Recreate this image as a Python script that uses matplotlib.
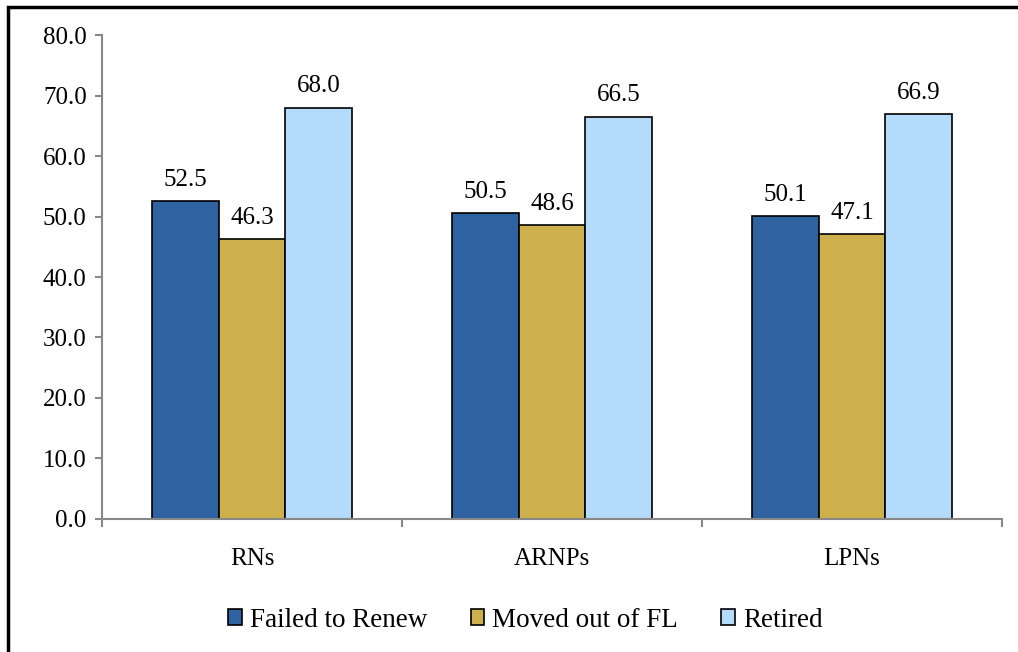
import matplotlib.pyplot as plt
import numpy as np
from matplotlib.patches import Rectangle

categories = ["RNs", "ARNPs", "LPNs"]
series_names = ["Failed to Renew", "Moved out of FL", "Retired"]
failed = [52.5, 50.5, 50.1]
moved = [46.3, 48.6, 47.1]
retired = [68.0, 66.5, 66.9]
colors = ["#2E62A1", "#CDAF4B", "#B5DBFC"]
y_ticks = [0, 10, 20, 30, 40, 50, 60, 70, 80]


def main():
    plt.rcParams['font.family'] = ['Liberation Serif', 'DejaVu Serif']
    fig = plt.figure(figsize=(10.18, 6.52), dpi=100)
    ax = fig.add_axes([0.1002, 0.204, 0.8841, 0.7423])

    # outer frame of the chart area (top and left visible)
    fig.patches.append(Rectangle((8 / 1018, -0.1), 1.2, 1 - 7 / 652 + 0.1,
                                 transform=fig.transFigure, fill=False,
                                 edgecolor='black', linewidth=2.5))

    x = np.arange(len(categories))
    w = 0.223
    data = [failed, moved, retired]
    for i, (vals, name, c) in enumerate(zip(data, series_names, colors)):
        bars = ax.bar(x + (i - 1) * w, vals, w, color=c, edgecolor='black',
                      linewidth=1.2, label=name)
        for b, v in zip(bars, vals):
            ax.text(b.get_x() + b.get_width() / 2, v + 1.7, f"{v:.1f}",
                    ha='center', va='bottom', fontsize=18)

    ax.set_xlim(-0.5, len(categories) - 0.5)
    ax.set_ylim(0, 80)
    ax.set_yticks(y_ticks)
    ax.set_yticklabels([f"{t:.1f}" for t in y_ticks], fontsize=18)
    ax.set_xticks(x)
    ax.set_xticklabels(categories, fontsize=18)
    ax.set_xticks(np.arange(len(categories) + 1) - 0.5, minor=True)
    ax.tick_params(axis='x', which='major', length=0, pad=21)
    ax.tick_params(axis='x', which='minor', length=6, width=1.5, color='#888888')
    ax.tick_params(axis='y', length=5, width=1.5, color='#888888', pad=6)
    for s in ['top', 'right']:
        ax.spines[s].set_visible(False)
    for s in ['left', 'bottom']:
        ax.spines[s].set_color('#888888')
        ax.spines[s].set_linewidth(1.5)

    ax.legend(loc='center', bbox_to_anchor=(0.4706, -0.209), ncol=3, frameon=False,
              prop={'size': 19.5},
              handlelength=0.5, handleheight=0.5, handletextpad=0.3,
              columnspacing=1.6, borderpad=0)

    fig.savefig("out.png", dpi=100)
    plt.close(fig)


if __name__ == '__main__':
    main()
